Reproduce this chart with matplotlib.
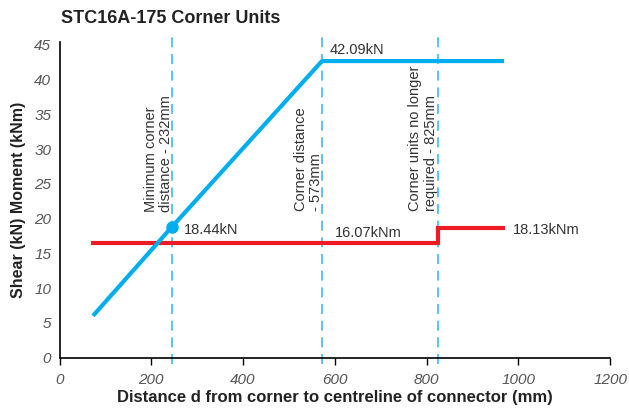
import matplotlib
matplotlib.use("Agg")
import matplotlib.pyplot as plt

# Data
shear_x = [73, 245, 572, 969]
shear_y = [6.0, 18.8, 42.66, 42.66]
moment_x = [68, 825, 825, 971]
moment_y = [16.47, 16.47, 18.63, 18.63]
marker_x = [245]
marker_y = [18.8]
vlines_x = [245, 572, 825]
x_ticks = [0, 200, 400, 600, 800, 1000, 1200]
y_ticks = [0, 5, 10, 15, 20, 25, 30, 35, 40, 45]

BLUE = "#00AEEF"
RED = "#ED1C24"
DASH = "#3DBBEA"
TXT = "#333333"

plt.rcParams['font.family'] = ['Liberation Sans', 'DejaVu Sans']

fig = plt.figure(figsize=(6.29, 4.16), dpi=100)
ax = fig.add_axes([0.0946, 0.1406, 0.8754, 0.7584])

ax.set_xlim(0, 1200)
ax.set_ylim(0, 45.4)

for xv in vlines_x:
    ax.axvline(xv, ymin=-0.02, ymax=1.02, color=DASH, lw=1.2,
               dashes=(6, 4), clip_on=False, zorder=1)

ax.plot(shear_x, shear_y, color=BLUE, lw=3.0, solid_capstyle='butt', zorder=3)
ax.plot(moment_x, moment_y, color=RED, lw=3.0, solid_capstyle='butt',
        solid_joinstyle='miter', zorder=2)
ax.plot(marker_x, marker_y, 'o', color=BLUE, ms=8, zorder=4)

ax.spines['top'].set_visible(False)
ax.spines['right'].set_visible(False)
ax.spines['left'].set_linewidth(1.2)
ax.spines['bottom'].set_linewidth(1.2)

ax.set_xticks(x_ticks)
ax.set_yticks(y_ticks)
ax.set_xticklabels([str(v) for v in x_ticks], fontstyle='italic', color='#555555', fontsize=11)
ax.set_yticklabels([str(v) for v in y_ticks], fontstyle='italic', color='#555555', fontsize=11)
ax.tick_params(axis='y', length=0, pad=6)
ax.tick_params(axis='x', length=5, width=1.0, pad=6)

ax.set_xlabel("Distance d from corner to centreline of connector (mm)",
              fontweight='bold', fontsize=12, color='#222222', labelpad=2)
ax.set_ylabel("Shear (kN) Moment (kNm)", fontweight='bold', fontsize=11.5,
              color='#222222', labelpad=6)
fig.text(0.097, 0.955, "STC16A-175 Corner Units", fontweight='bold',
         fontsize=13, color='#222222', ha='left', va='center')

ax.text(247, 20.9, "Minimum corner\ndistance - 232mm", rotation=90,
        ha='right', va='bottom', multialignment='left', fontsize=10.5,
        color=TXT, linespacing=1.12)
ax.text(574, 21.1, "Corner distance\n- 573mm", rotation=90,
        ha='right', va='bottom', multialignment='left', fontsize=10.5,
        color=TXT, linespacing=1.12)
ax.text(824, 21.1, "Corner units no longer\nrequired - 825mm", rotation=90,
        ha='right', va='bottom', multialignment='left', fontsize=10.5,
        color=TXT, linespacing=1.12)

ax.text(589, 44.2, "42.09kN", fontsize=10.5, color=TXT, ha='left', va='center')
ax.text(271, 18.4, "18.44kN", fontsize=10.5, color=TXT, ha='left', va='center')
ax.text(601, 17.9, "16.07kNm", fontsize=10.5, color=TXT, ha='left', va='center')
ax.text(987, 18.4, "18.13kNm", fontsize=10.5, color=TXT, ha='left', va='center')

fig.savefig("out.png", dpi=100)
